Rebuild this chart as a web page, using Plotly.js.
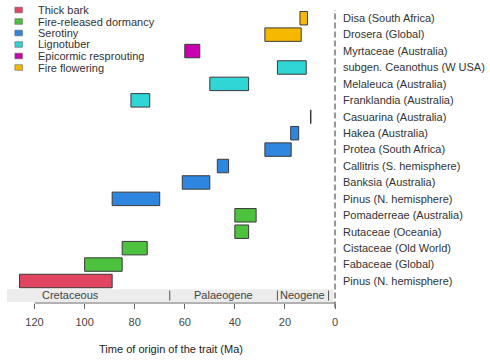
<!DOCTYPE html>
<html><head><meta charset="utf-8">
<script src="https://cdn.plot.ly/plotly-3.0.1.min.js"></script>
<style>html,body{margin:0;padding:0;background:#fff}</style>
</head><body><div id="chart" style="width:490px;height:360px"></div>
<script>
// ---- data ----
const taxa = ["Disa (South Africa)","Drosera (Global)","Myrtaceae (Australia)","subgen. Ceanothus (W USA)",
  "Melaleuca (Australia)","Franklandia (Australia)","Casuarina (Australia)","Hakea (Australia)",
  "Protea (South Africa)","Callitris (S. hemisphere)","Banksia (Australia)","Pinus (N. hemisphere)",
  "Pomaderreae (Australia)","Rutaceae (Oceania)","Cistaceae (Old World)","Fabaceae (Global)","Pinus (N. hemisphere)"];
const traitOf = ["Fire flowering","Fire flowering","Epicormic resprouting","Lignotuber",
  "Lignotuber","Lignotuber","Serotiny","Serotiny",
  "Serotiny","Serotiny","Serotiny","Serotiny",
  "Fire-released dormancy","Fire-released dormancy","Fire-released dormancy","Fire-released dormancy","Thick bark"];
const youngest = [11,13.5,54,11.5,34.5,74,9.6,14.5,17.5,42.5,50,70,31.5,34.5,75,85,89];
const oldest   = [14,28,60,23,50,81.5,9.8,17.7,28,47,61,89,40,40,85,100,126];
const traits = ["Thick bark","Fire-released dormancy","Serotiny","Lignotuber","Epicormic resprouting","Fire flowering"];
const traitColors = ["#E2455F","#4CC23F","#2E86DE","#30D5D5","#C800B0","#F6B800"];
const periodNames = ["Cretaceous","Palaeogene","Neogene"];
const periodOld = [145,66,23];
const periodYoung = [66,23,2.58];
const xTicks = [120,100,80,60,40,20,0];

// ---- build ----
const n = taxa.length;
const rowY = taxa.map((t,i)=>n-i);
const traces = traits.map((tr,k)=>{
  const idx = traitOf.map((t,i)=>t===tr?i:-1).filter(i=>i>=0);
  return {
    type:'bar', orientation:'h', name:tr,
    y: idx.map(i=>rowY[i]),
    base: idx.map(i=>youngest[i]),
    x: idx.map(i=>oldest[i]-youngest[i]),
    width: 0.82,
    marker:{color:traitColors[k], line:{color:'#3a3a3a', width:1}},
    hoverinfo:'skip', showlegend:false
  };
});

const xMax = 131;
const shapes = [];
const annotations = [];
// period band
shapes.push({type:'rect', xref:'x', yref:'y', x0:xMax, x1:0.6, y0:-0.28, y1:0.5, fillcolor:'#ECECEC', line:{width:0}, layer:'below'});
periodNames.forEach((p,i)=>{
  const xy = periodYoung[i];
  annotations.push({xref:'x', yref:'y', x:(periodOld[i]+periodYoung[i])/2, y:0.12, text:p, showarrow:false,
    font:{size:11, color:'#444'}});
  shapes.push({type:'line', xref:'x', yref:'y', x0:xy, x1:xy, y0:-0.2, y1:0.42, line:{color:'#555', width:1}});
});
// bottom axis line (120 to 0)
shapes.push({type:'line', xref:'x', yref:'paper', x0:xTicks[0], x1:xTicks[xTicks.length-1], y0:0, y1:0, line:{color:'#666', width:1}});
// right dashed line
shapes.push({type:'line', xref:'paper', yref:'paper', x0:1, x1:1, y0:-0.015, y1:1, line:{color:'#777', width:1.5, dash:'6px,3px'}});
// legend
const legTop = 1.0, legStep = 11.5/293;
traits.forEach((tr,k)=>{
  const yc = legTop - k*legStep;
  shapes.push({type:'rect', xref:'paper', yref:'paper', x0:0.024, x1:0.047, y0:yc-2.8/293, y1:yc+2.8/293,
    fillcolor:traitColors[k], line:{color:'#666', width:0.6}});
  annotations.push({xref:'paper', yref:'paper', x:0.0885, y:yc, xanchor:'left', yanchor:'middle', text:tr,
    showarrow:false, font:{size:11, color:'#333'}});
});

const layout = {
  width:490, height:360,
  margin:{l:7, r:155, t:10, b:57},
  paper_bgcolor:'#fff', plot_bgcolor:'#fff',
  font:{family:'"Liberation Sans", Arial, sans-serif', color:'#333'},
  barmode:'overlay', showlegend:false,
  xaxis:{range:[xMax,0], tickvals:xTicks, ticktext:xTicks.map(String), ticks:'outside', ticklen:5, tickcolor:'#666',
    tickfont:{size:11, color:'#444'}, showgrid:false, zeroline:false, showline:false, ticklabelstandoff:4,
    title:{text:'Time of origin of the trait (Ma)', font:{size:11, color:'#222'}, standoff:18}, automargin:false},
  yaxis:{side:'right', range:[-0.34,17.5], tickvals:rowY, ticktext:taxa, ticks:'', showgrid:false, zeroline:false,
    showline:false, tickfont:{size:11, color:'#333'}, ticklabelstandoff:7, automargin:false},
  shapes:shapes, annotations:annotations
};
Plotly.newPlot('chart', traces, layout, {staticPlot:true, displayModeBar:false});
</script></body></html>
